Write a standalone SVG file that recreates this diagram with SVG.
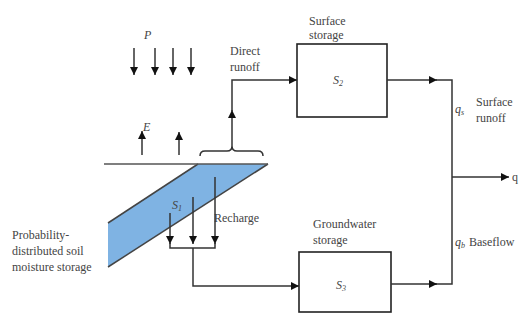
<svg xmlns="http://www.w3.org/2000/svg" width="523" height="322" viewBox="0 0 523 322">
<style>
.ln{fill:none;stroke:#333;stroke-width:1.5}
.box{fill:#fff;stroke:#222;stroke-width:1.6}
text{font-family:'Liberation Serif','DejaVu Serif','Times New Roman',serif;font-size:12px;fill:#444}
.i{font-style:italic}
</style>
<defs>
<marker id="ah" viewBox="0 0 10 10" refX="10" refY="5" markerWidth="8" markerHeight="8" markerUnits="userSpaceOnUse" orient="auto">
<path d="M0,0 L10,5 L0,10 z" fill="#111"/>
</marker>
</defs>
<rect width="523" height="322" fill="#fff"/>
<g id="soil">
<polygon points="198,164 268,164 108,267 108,223" fill="#7fb3e3"/>
<line x1="198" y1="164" x2="108" y2="223" stroke="#444" stroke-width="1.5"/>
<line x1="268" y1="164" x2="108" y2="267" stroke="#444" stroke-width="1.5"/>
<line x1="104" y1="164" x2="268" y2="164" stroke="#555" stroke-width="1.5"/>
<text class="i" x="172" y="209">S<tspan font-size="8" dy="2">1</tspan></text>
<text x="12" y="239">Probability-</text>
<text x="12" y="255">distributed soil</text>
<text x="12" y="271">moisture storage</text>
</g>
<g id="surface">
<rect class="box" x="297" y="44" width="90" height="73"/>
<text x="309" y="25">Surface</text>
<text x="309" y="39">storage</text>
<text class="i" x="333" y="84">S<tspan font-size="8" dy="2">2</tspan></text>
</g>
<g id="groundwater">
<rect class="box" x="299" y="252" width="92" height="60"/>
<text x="313" y="228">Groundwater</text>
<text x="313" y="244">storage</text>
<text class="i" x="336" y="289">S<tspan font-size="8" dy="2">3</tspan></text>
</g>
<g id="labels">
<text class="i" x="144" y="39">P</text>
<text class="i" x="143" y="131">E</text>
<text x="230" y="55">Direct</text>
<text x="230" y="71">runoff</text>
<text x="214" y="222">Recharge</text>
<text class="i" x="455" y="113">q<tspan font-size="8" dy="2">s</tspan></text>
<text x="476" y="106">Surface</text>
<text x="476" y="122">runoff</text>
<text class="i" x="455" y="246">q<tspan font-size="8" dy="2">b</tspan></text>
<text x="469" y="246">Baseflow</text>
<text x="512" y="181">q</text>
</g>
<g id="connectors">
<line class="ln" x1="134" y1="48" x2="134" y2="75" marker-end="url(#ah)"/>
<line class="ln" x1="155" y1="48" x2="155" y2="75" marker-end="url(#ah)"/>
<line class="ln" x1="173" y1="48" x2="173" y2="75" marker-end="url(#ah)"/>
<line class="ln" x1="191" y1="48" x2="191" y2="75" marker-end="url(#ah)"/>
<line class="ln" x1="142" y1="155" x2="142" y2="131" marker-end="url(#ah)"/>
<line class="ln" x1="179" y1="155" x2="179" y2="132" marker-end="url(#ah)"/>
<path class="ln" d="M200,156 Q200,151 205,151 L227,151 Q232,151 232,146 Q232,151 237,151 L258,151 Q263,151 263,156" stroke-width="1.3"/>
<line class="ln" x1="232" y1="146" x2="232" y2="110" marker-end="url(#ah)"/>
<polyline class="ln" points="232,112 232,80 297,80" marker-end="url(#ah)"/>
<line class="ln" x1="387" y1="80" x2="437" y2="80" marker-end="url(#ah)"/>
<polyline class="ln" points="435,80 452,80 452,284 435,284"/>
<line class="ln" x1="391" y1="284" x2="437" y2="284" marker-end="url(#ah)"/>
<line class="ln" x1="452" y1="177" x2="509" y2="177" marker-end="url(#ah)"/>
<line class="ln" x1="170" y1="213" x2="170" y2="244" marker-end="url(#ah)"/>
<line class="ln" x1="193" y1="197" x2="193" y2="244" marker-end="url(#ah)"/>
<line class="ln" x1="215" y1="177" x2="215" y2="244" marker-end="url(#ah)"/>
<polyline class="ln" points="170,242 170,248 215,248 215,242"/>
<polyline class="ln" points="193,248 193,286 299,286" marker-end="url(#ah)"/>
</g>
</svg>
